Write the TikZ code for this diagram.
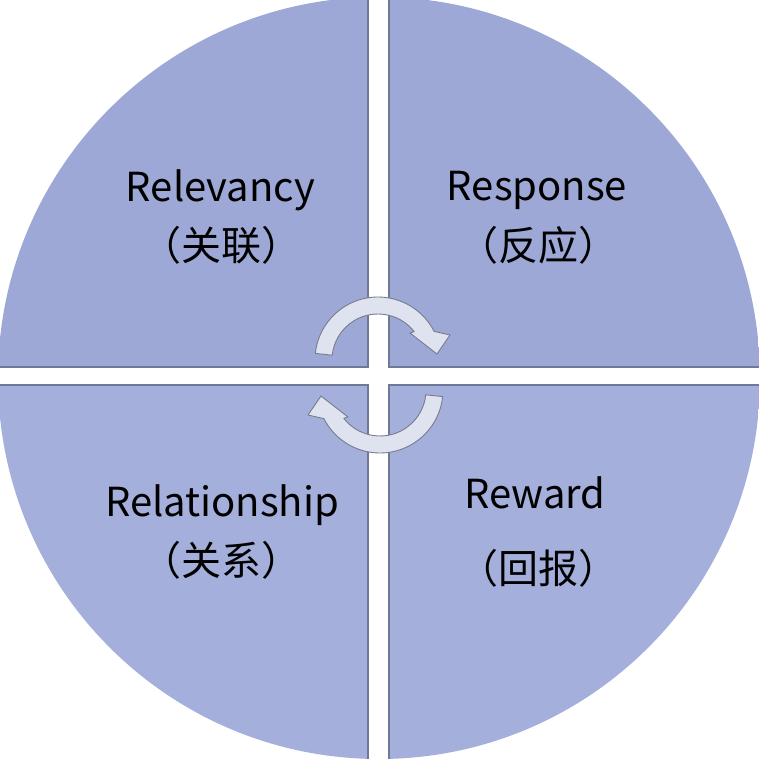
\documentclass[tikz,border=0pt]{standalone}
\usepackage{fontspec}
\setmainfont{Noto Sans CJK SC}
\definecolor{quadhaut}{RGB}{157,168,214}
\definecolor{quadbas}{RGB}{164,176,219}
\definecolor{bord}{RGB}{112,120,152}
\definecolor{fleche}{RGB}{223,226,239}
\definecolor{flechebord}{RGB}{118,124,140}
\begin{document}
\begin{tikzpicture}[
    x=1pt, y=1pt,
    every node/.style={font=\fontsize{40}{48}\selectfont, align=center, text=black},
    bordgap/.style={draw=bord, line width=1.2pt},
    fleche/.style={fill=fleche, draw=flechebord, line width=0.9pt, line join=round},
]
\useasboundingbox (-379.5,-379.5) rectangle (379.5,379.5);

% Quadrants
\begin{scope}
    \clip (-379.5,-379.5) rectangle (379.5,379.5);
    \clip (-0.5,1.5) circle[radius=381];
    \fill[quadhaut] (-400,12.5) rectangle (-11.5,400);
    \fill[quadhaut] (9.5,12.5) rectangle (400,400);
    \fill[quadbas] (-400,-400) rectangle (-11.5,-5.5);
    \fill[quadbas] (9.5,-400) rectangle (400,-5.5);
    % bords des espaces
    \draw[bordgap] (-400,12.5) -- (-11.5,12.5) -- (-11.5,400);
    \draw[bordgap] (400,12.5) -- (9.5,12.5) -- (9.5,400);
    \draw[bordgap] (-400,-5.5) -- (-11.5,-5.5) -- (-11.5,-400);
    \draw[bordgap] (400,-5.5) -- (9.5,-5.5) -- (9.5,-400);
\end{scope}

% Fleches du centre
\coordinate (ch) at (-1.5,19.5);
\coordinate (cb) at (0.5,-10.5);
\draw[fleche, shift={(ch)}] (174:63) arc[start angle=174, end angle=27, radius=63]
    -- (72,25) -- (59,6) -- (32,27) -- (38:46) arc[start angle=38, end angle=174, radius=46] -- cycle;
\draw[fleche, shift={(cb)}, rotate=180] (174:63) arc[start angle=174, end angle=27, radius=63]
    -- (72,25) -- (59,6) -- (32,27) -- (38:46) arc[start angle=38, end angle=174, radius=46] -- cycle;

% Textes
\node (rel) at (-159,189.5) {Relevancy};
\node (relcn) at (-158,134.5) {（关联）};
\node (resp) at (157.5,189.5) {Response};
\node (respcn) at (158.5,134.5) {（反应）};
\node (relat) at (-157.5,-125.5) {Relationship};
\node (relatcn) at (-157.5,-180.5) {（关系）};
\node (rew) at (155.5,-113.5) {Reward};
\node (rewcn) at (158.5,-188.5) {（回报）};

\end{tikzpicture}
\end{document}
